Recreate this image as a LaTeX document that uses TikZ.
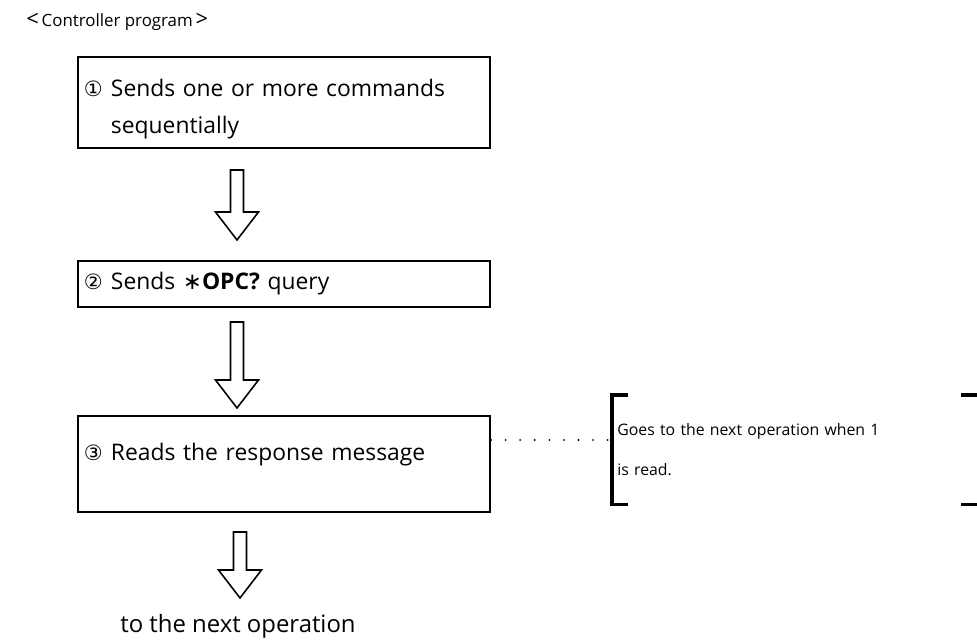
\documentclass[tikz,border=0pt]{standalone}
\usepackage{fontspec}
\setmainfont{Open Sans}
\newfontfamily\symfont{DejaVu Sans}
\usetikzlibrary{calc}

\tikzset{
  stepbox/.style={draw, line width=1.1pt, minimum width=8.24cm, text width=8.0cm, inner xsep=0.12cm, align=left, font=\fontsize{13}{21}\selectfont},
  hollow/.style={draw, line width=0.9pt, fill=white, line join=miter},
  dots/.style={line width=1.2pt, line cap=round, dash pattern=on 0pt off 8.3pt},
  bracket/.style={line width=1.8pt}
}
\newcommand{\hollowarrow}[2]{%
  \draw[hollow] ($(#1)+(-0.13,0)$) -- ($(#2)+(-0.13,0.56)$) -- ($(#2)+(-0.43,0.56)$) -- (#2)
    -- ($(#2)+(0.43,0.56)$) -- ($(#2)+(0.13,0.56)$) -- ($(#1)+(0.13,0)$) -- cycle;}
\newcommand{\stepnum}[1]{\rule{0pt}{17pt}\makebox[0.54cm][l]{\symfont\fontsize{12}{14}\selectfont #1}}

\begin{document}
\begin{tikzpicture}
\useasboundingbox (0,0) rectangle (19.54,-12.88);
% title
\node[anchor=west, inner sep=0pt, font=\fontsize{9.6}{12}\selectfont] (title) at (0.52,-0.44) {{\fontsize{12.5}{12}\selectfont<}\,Controller program\,{\fontsize{12.5}{12}\selectfont>}};
% the three steps
\node[stepbox, minimum height=1.82cm] (b1) at (5.68,-2.05) {\stepnum{①}Sends one or more commands\\\hspace*{0.54cm}sequentially};
\node[stepbox, minimum height=0.92cm] (b2) at (5.68,-5.68) {\makebox[0.54cm][l]{\symfont\fontsize{12}{14}\selectfont ②}Sends {\symfont ∗}\textbf{OPC?} query};
\node[stepbox, minimum height=1.92cm] (b3) at (5.68,-9.28) {\stepnum{③}Reads the response message\\\mbox{}};
\node[font=\fontsize{13.6}{15}\selectfont] (next) at (4.76,-12.52) {to the next operation};
% note on the right
\node[anchor=north west, minimum width=7.42cm, minimum height=2.18cm, text width=7.22cm, inner xsep=0.1cm, align=left, font=\fontsize{9}{22.8}\selectfont] (note) at (12.24,-7.9) {Goes to the next operation when 1\\is read.};
\draw[bracket] ($(note.north west)+(0.32,0)$) -- (note.north west) -- (note.south west) -- ++(0.32,0);
\draw[bracket] ($(note.north east)+(-0.46,0)$) -- (note.north east) -- (note.south east) -- ++(-0.46,0);
\draw[dots] (b3.east |- 0,-8.8) -- (note.west |- 0,-8.8);
% arrows
\coordinate (s1) at (4.74,-3.4);  \coordinate (t1) at (4.74,-4.8);
\coordinate (s2) at (4.74,-6.44); \coordinate (t2) at (4.74,-8.16);
\coordinate (s3) at (4.8,-10.64); \coordinate (t3) at (4.8,-11.96);
\hollowarrow{s1}{t1}
\hollowarrow{s2}{t2}
\hollowarrow{s3}{t3}
\end{tikzpicture}
\end{document}
